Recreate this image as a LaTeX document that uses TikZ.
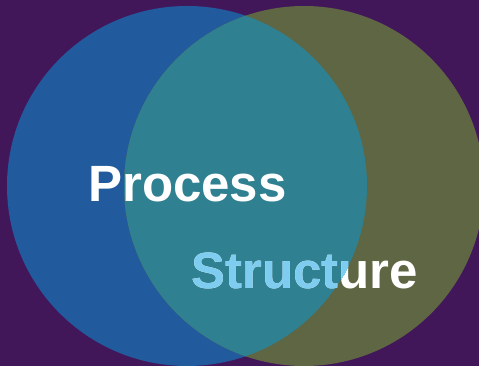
\documentclass[tikz,border=0pt]{standalone}
\usepackage{fontspec}
\setmainfont{Liberation Sans}
\usetikzlibrary{positioning}
\definecolor{bgpurple}{RGB}{66,23,90}
\definecolor{procblue}{RGB}{34,90,158}
\definecolor{structolive}{RGB}{94,102,67}
\definecolor{overlapteal}{RGB}{47,128,144}
\definecolor{skyblue}{RGB}{126,205,240}

\begin{document}
\begin{tikzpicture}[x=1pt,y=-1pt,
    word/.style={font=\bfseries\fontsize{51}{61}\selectfont,inner sep=0pt,anchor=base west}]
                 \fill[bgpurple] (0,0) rectangle (479,366);
                 \useasboundingbox (0,0) rectangle (479,366);
                 \fill[procblue] (187,186) circle (180);
                 \fill[structolive] (304,186) circle (180);
                 \begin{scope}
                   \clip (187,186) circle (180);
                   \fill[overlapteal] (304,186) circle (180);
                 \end{scope}
                 \node[word,text=white] (process) at (88,202) {Process};
                 \node[word,text=white] (structure) at (191,288) {Structure};
                 \begin{scope}
                   \clip (187,186) circle (180);
                   \node[word,text=skyblue] (structurein) at (structure.base west) {Structure};
                 \end{scope}
               \end{tikzpicture}
\end{document}
